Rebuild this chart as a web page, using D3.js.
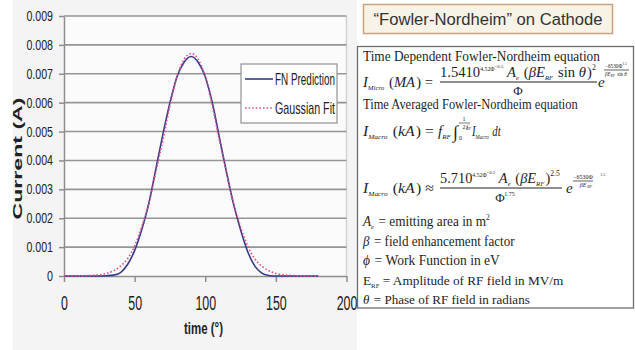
<!DOCTYPE html>
<html>
<head>
<meta charset="utf-8">
<script src="https://cdn.jsdelivr.net/npm/d3@7"></script>
<style>
  body { margin: 0; background: #fff; }
  svg { display: block; font-family: "Liberation Sans Narrow", "Arial Narrow", "Liberation Sans", sans-serif; }
  .eq text { font-family: "Liberation Serif", "Times New Roman", serif; fill: #1e1e1e; }
</style>
</head>
<body>
<svg id="chart" width="635" height="350"></svg>
<script>
// phase angle of the RF field (degrees)
const timeDeg = [0, 5, 10, 15, 20, 25, 30, 35, 40, 45, 50, 55, 60, 65, 70, 75, 80, 85, 90,
  95, 100, 105, 110, 115, 120, 125, 130, 135, 140, 145, 150, 155, 160, 165, 170, 175, 180];
// emitted current (A), FN prediction
const fnCurrent = [0, 0, 0, 0, 0, 0, 0.00001, 0.00003, 0.00012, 0.0004, 0.00088, 0.0016, 0.0025, 0.0037, 0.0049, 0.006, 0.0069, 0.0074, 0.0076,
  0.0074, 0.0069, 0.006, 0.0048, 0.0036, 0.0025, 0.0016, 0.00085, 0.00035, 0.0001, 0.00002, 0, 0, 0, 0, 0, 0, 0];
// emitted current (A), gaussian fit
const gaussCurrent = [0, 0, 0, 0.00001, 0.00002, 0.00004, 0.00009, 0.00018, 0.00034, 0.0006, 0.00104, 0.0017, 0.0025, 0.0036, 0.0047, 0.0059, 0.0069, 0.0075, 0.0077,
  0.0075, 0.0069, 0.0059, 0.0047, 0.0036, 0.0025, 0.0017, 0.00104, 0.0006, 0.00034, 0.00018, 0.00009, 0.00004, 0.00002, 0.00001, 0, 0, 0];
const xTicks = [0, 50, 100, 150, 200];
const yTicks = [0, 0.001, 0.002, 0.003, 0.004, 0.005, 0.006, 0.007, 0.008, 0.009];
const seriesNames = ["FN Prediction", "Gaussian Fit"];

const svg = d3.select("#chart");

// chart area + plot area
svg.append("rect").attr("x", 13).attr("y", 0).attr("width", 344).attr("height", 350).attr("fill", "#f4f4f4");

const x = d3.scaleLinear().domain([0, 200]).range([64, 346.5]);
const y = d3.scaleLinear().domain([0, 0.009]).range([276, 16]);

svg.append("rect")
  .attr("x", x(0)).attr("y", y(0.009))
  .attr("width", x(200) - x(0)).attr("height", y(0) - y(0.009))
  .attr("fill", "#fbfbfb");
svg.append("line")
  .attr("x1", x(200)).attr("x2", x(200)).attr("y1", y(0.009)).attr("y2", y(0))
  .attr("stroke", "#d4d4d4").attr("stroke-width", 1.5);

// gridlines
svg.append("g").selectAll("line")
  .data(yTicks.filter(d => d > 0))
  .join("line")
  .attr("x1", x(0)).attr("x2", x(200))
  .attr("y1", d => y(d)).attr("y2", d => y(d))
  .attr("stroke", "#959595").attr("stroke-width", 1.6);

// axes
const yAxis = svg.append("g")
  .attr("transform", `translate(${x(0)},0)`)
  .call(d3.axisLeft(y).tickValues(yTicks).tickSize(5).tickSizeOuter(0).tickPadding(6)
    .tickFormat(d => d === 0 ? "0" : d3.format(".3f")(d)));
yAxis.selectAll("text")
  .attr("font-size", 14).attr("fill", "#222")
  .attr("textLength", function() { const s = this.textContent; return s.replace(".", "").length * 6 + (s.includes(".") ? 2.6 : 0); })
  .attr("lengthAdjust", "spacingAndGlyphs");

const xAxis = svg.append("g")
  .attr("transform", `translate(0,${y(0)})`)
  .call(d3.axisBottom(x).tickValues(xTicks).tickSize(6).tickSizeOuter(0).tickPadding(14));
xAxis.selectAll("text")
  .attr("font-size", 20).attr("fill", "#222")
  .attr("textLength", function() { return this.textContent.length * 6.9; })
  .attr("lengthAdjust", "spacingAndGlyphs");

svg.selectAll(".domain, .tick line").attr("stroke", "#8e8e8e").attr("stroke-width", 1.5);

// axis titles
svg.append("text")
  .attr("transform", "translate(22,158.5) rotate(-90)")
  .attr("text-anchor", "middle")
  .attr("font-family", "Liberation Sans, Arial, sans-serif")
  .attr("font-weight", "bold").attr("font-size", 13).attr("fill", "#222")
  .attr("textLength", 122).attr("lengthAdjust", "spacingAndGlyphs")
  .text("Current (A)");
svg.append("text")
  .attr("x", 203.5).attr("y", 334)
  .attr("text-anchor", "middle")
  .attr("font-weight", "bold").attr("font-size", 17).attr("fill", "#222")
  .attr("textLength", 39).attr("lengthAdjust", "spacingAndGlyphs")
  .text("time (°)");

// series
const line = d3.line().curve(d3.curveMonotoneX)
  .x((d, i) => x(timeDeg[i]))
  .y(d => y(d));

svg.append("path")
  .attr("d", line(fnCurrent))
  .attr("fill", "none").attr("stroke", "#363b8f").attr("stroke-width", 1.6);
svg.append("path")
  .attr("d", line(gaussCurrent))
  .attr("fill", "none").attr("stroke", "#e2507c").attr("stroke-width", 1.6)
  .attr("stroke-dasharray", "1.6,2");

// legend
const leg = svg.append("g");
leg.append("rect").attr("x", 241).attr("y", 64).attr("width", 96).attr("height", 59)
  .attr("fill", "#fff").attr("stroke", "#9a9a9a").attr("stroke-width", 1.3);
const legStyles = [
  { stroke: "#363b8f", dash: null, y: 79 },
  { stroke: "#e2507c", dash: "1.6,2", y: 108 }
];
seriesNames.forEach((name, i) => {
  const s = legStyles[i];
  leg.append("line").attr("x1", 245).attr("x2", 273).attr("y1", s.y).attr("y2", s.y)
    .attr("stroke", s.stroke).attr("stroke-width", 1.6).attr("stroke-dasharray", s.dash);
  leg.append("text").attr("x", 275).attr("y", s.y + 6)
    .attr("font-size", 17).attr("fill", "#222")
    .attr("textLength", 60).attr("lengthAdjust", "spacingAndGlyphs")
    .text(name);
});

// ---- right panel: title box + equations ----
svg.append("rect").attr("x", 363.5).attr("y", 4.5).attr("width", 249).attr("height", 29)
  .attr("fill", "#f7f3e6").attr("stroke", "#c9a27e").attr("stroke-width", 1.5);
svg.append("text").attr("x", 488).attr("y", 25).attr("text-anchor", "middle")
  .attr("font-family", "Liberation Sans, Arial, sans-serif").attr("font-size", 16).attr("fill", "#333")
  .attr("textLength", 229).attr("lengthAdjust", "spacingAndGlyphs")
  .text("\u201cFowler-Nordheim\u201d on Cathode");

svg.append("rect").attr("x", 357.5).attr("y", 46.5).attr("width", 276).attr("height", 261.5)
  .attr("fill", "#fff").attr("stroke", "#6e6e6e").attr("stroke-width", 1.3);

const eq = svg.append("g").attr("class", "eq");

// rich text: parts are [text, {i: italic, s: size, d: baseline offset}]
function rich(x0, y0, parts, size, width, anchor) {
  const t = eq.append("text").attr("x", x0).attr("y", y0).attr("font-size", size || 14)
    .attr("text-anchor", anchor || "start");
  let prevItalic = false;
  parts.forEach(p => {
    const o = p[1] || {};
    const ts = t.append("tspan").text(p[0]).attr("y", y0 + (o.d || 0));
    if (o.i) ts.attr("font-style", "italic");
    if (o.s) ts.attr("font-size", o.s);
    if (prevItalic && !o.i) ts.attr("dx", 1.2);   // italic overhang
    prevItalic = !!o.i;
  });
  if (width) {
    const w = t.node().getBBox().width;
    const k = width / w;
    t.attr("transform", `translate(${x0},0) scale(${k},1) translate(${-x0},0)`);
  }
  return t;
}
function bar(x1, x2, yy, w) {
  eq.append("line").attr("x1", x1).attr("x2", x2).attr("y1", yy).attr("y2", yy)
    .attr("stroke", "#1e1e1e").attr("stroke-width", w || 1);
}

const L1 = 61, L2 = 87, L3 = 109, L4 = 136, L5 = 193;

rich(363, L1, [["Time Dependent Fowler-Nordheim equation"]], 14, 237);

// I_Micro
rich(363, L2, [["I", { i: 1 }], ["Micro", { i: 1, s: 7, d: 3 }], [" ("], ["MA", { i: 1 }], [") ="]], 15, 71);
rich(440, L2 - 10, [["1.5410"], ["4.52\u03a6", { s: 6, d: -6 }], ["\u22120.5", { s: 5, d: -9 }], ["  A", { i: 1 }], ["e", { i: 1, s: 7, d: 3 }],
  [" ("], ["\u03b2E", { i: 1 }], ["RF", { i: 1, s: 7, d: 3 }], [" sin "], ["\u03b8", { i: 1 }], [")"], ["2", { s: 8, d: -7 }]], 15, 156);
bar(440, 597, L2 - 5);
rich(518, L2 + 8, [["\u03a6"]], 13, null, "middle");
rich(598, L2, [["e", { i: 1 }]], 15);
rich(605, L2 - 19, [["\u22126530\u03a6"], ["1.5", { s: 4, d: -3 }]], 5.5, 22);
bar(604, 629, L2 - 17, 0.7);
rich(605, L2 - 11, [["\u03b2E", { i: 1 }], ["RF", { i: 1, s: 4, d: 1 }], [" sin "], ["\u03b8", { i: 1 }]], 5.5, 23);

rich(363, L3, [["Time Averaged Fowler-Nordheim equation"]], 14, 215);

// I_Macro integral
rich(363, L4, [["I", { i: 1 }], ["Macro", { i: 1, s: 7, d: 3 }], [" ("], ["kA", { i: 1 }], [") ="]], 15, 72);
rich(438, L4, [["f", { i: 1 }], ["RF", { i: 1, s: 7, d: 3 }]], 15);
rich(453, L4 + 2, [["\u222b"]], 18);
rich(459, L4 + 4, [["0"]], 6);
rich(464, L4 - 15, [["1"]], 6, null, "middle");
bar(459, 470, L4 - 13, 0.6);
rich(464, L4 - 7, [["2", {}], ["f", { i: 1 }], ["RF", { i: 1, s: 4, d: 1 }]], 6, null, "middle");
rich(472, L4, [["I", { i: 1 }], ["Macro", { i: 1, s: 7, d: 3 }], [" "], ["dt", { i: 1 }]], 15, 30);

// I_Macro approx
rich(363, L5, [["I", { i: 1 }], ["Macro", { i: 1, s: 7, d: 3 }], [" ("], ["kA", { i: 1 }], [") \u2248"]], 15, 72);
rich(440, L5 - 10, [["5.710"], ["4.52\u03a6", { s: 6, d: -6 }], ["\u22120.5", { s: 5, d: -9 }], ["  A", { i: 1 }], ["e", { i: 1, s: 7, d: 3 }],
  [" ("], ["\u03b2E", { i: 1 }], ["RF", { i: 1, s: 7, d: 3 }], [")"], ["2.5", { s: 8, d: -7 }]], 15, 120);
bar(440, 562, L5 - 5);
rich(500, L5 + 9, [["\u03a6"], ["1.75", { s: 6, d: -6 }]], 13, null, "middle");
rich(566, L5, [["e", { i: 1 }]], 15);
rich(583, L5 - 14, [["\u22126530\u03a6"], ["1.5", { s: 4, d: -3 }]], 6, null, "middle");
bar(573, 593, L5 - 12, 0.7);
rich(583, L5 - 6, [["\u03b2E", { i: 1 }], ["RF", { i: 1, s: 4, d: 1 }]], 6, null, "middle");

// definitions
rich(363, 226, [["A", { i: 1 }], ["e", { i: 1, s: 7, d: 3 }], [" = emitting area in m"], ["2", { s: 8, d: -6 }]], 14, 128);
rich(363, 246, [["\u03b2", { i: 1 }], [" = field enhancement factor"]], 14, 153);
rich(363, 265, [["\u03d5", { i: 1 }], [" = Work Function in eV"]], 14, 137);
rich(363, 285, [["E"], ["RF", { s: 7, d: 3 }], [" = Amplitude of RF field in MV/m"]], 13.5, 201);
rich(363, 304, [["\u03b8", { i: 1 }], [" = Phase of RF field in radians"]], 13.5, 167);
</script>
</body>
</html>
